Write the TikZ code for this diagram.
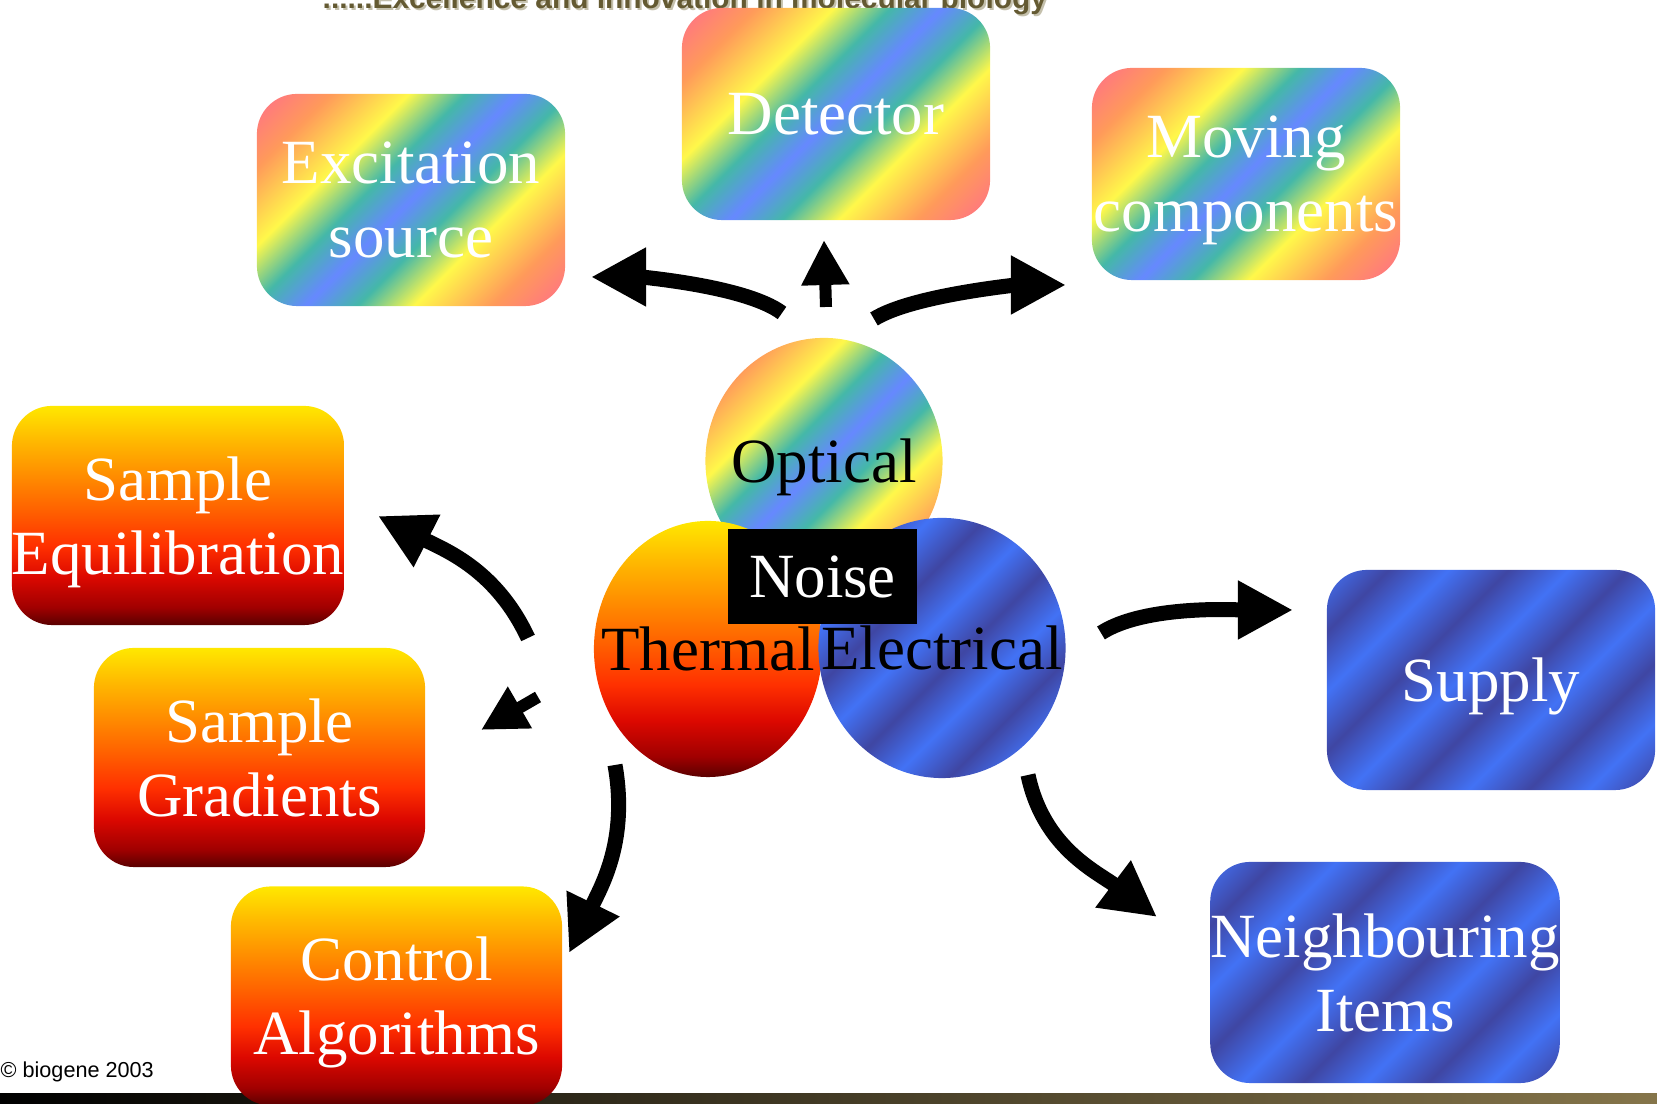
\documentclass[tikz,border=0pt]{standalone}
\usepackage{fontspec}
\setmainfont{Liberation Serif}
\newfontfamily\headfont{Liberation Sans}
\usetikzlibrary{shapes.geometric,arrows.meta}

% colours
\definecolor{rbpink}{HTML}{FF6E8A}
\definecolor{rborange}{HTML}{FF9A5A}
\definecolor{rbyellow}{HTML}{FFF84A}
\definecolor{rbteal}{HTML}{44B8A8}
\definecolor{rbblue}{HTML}{6688FF}
\definecolor{heatA}{HTML}{5A0000}
\definecolor{heatB}{HTML}{A00000}
\definecolor{heatC}{HTML}{DC0800}
\definecolor{heatD}{HTML}{FF3000}
\definecolor{heatE}{HTML}{FF6000}
\definecolor{heatF}{HTML}{FF8C00}
\definecolor{heatG}{HTML}{FFB800}
\definecolor{heatH}{HTML}{FFE800}
\definecolor{stdark}{HTML}{3F46A3}
\definecolor{stlight}{HTML}{4272F5}
\definecolor{barend}{HTML}{85754A}
\definecolor{motto}{HTML}{645A32}
\definecolor{mottoshadow}{HTML}{C4C0AC}

% shadings (turned by -45, so about 15bp..85bp shows along the diagonal)
\pgfdeclarehorizontalshading{rainbow}{100bp}{color(0bp)=(rbpink); color(14.6bp)=(rbpink);
  color(24.5bp)=(rborange); color(35.2bp)=(rbyellow); color(42.9bp)=(rbteal); color(50bp)=(rbblue);
  color(57.1bp)=(rbteal); color(64.8bp)=(rbyellow); color(75.5bp)=(rborange); color(85.4bp)=(rbpink);
  color(100bp)=(rbpink)}
\pgfdeclareverticalshading{heat}{100bp}{color(0bp)=(heatA); color(25bp)=(heatA);
  color(29bp)=(heatB); color(36bp)=(heatC); color(43bp)=(heatD); color(51bp)=(heatE);
  color(59bp)=(heatF); color(67bp)=(heatG); color(75bp)=(heatH); color(100bp)=(heatH)}
\pgfdeclarehorizontalshading{steel}{100bp}{color(0bp)=(stlight); color(14.6bp)=(stlight);
  color(22.4bp)=(stdark); color(30.2bp)=(stlight); color(38bp)=(stdark); color(45.8bp)=(stlight);
  color(53.5bp)=(stdark); color(61.3bp)=(stlight); color(69.1bp)=(stdark); color(76.9bp)=(stlight);
  color(84.7bp)=(stdark); color(100bp)=(stdark)}

\newcommand{\bigfont}{\fontsize{17.9}{21}\selectfont}

\tikzset{
  card/.style={rounded corners=0.4cm, inner sep=0pt, align=center, text=white,
    font=\bigfont, text depth=0pt},
  rainbowcard/.style={card, shading=rainbow, shading angle=-45,
    minimum width=3.08cm, minimum height=2.12cm},
  heatcard/.style={card, shading=heat, minimum width=3.31cm, minimum height=2.19cm},
  steelcard/.style={card, shading=steel, shading angle=-45},
  blob/.style={ellipse, inner sep=0pt},
  blobtext/.style={font=\bigfont, text depth=0pt, inner sep=0pt},
  flow/.style={-{Triangle[length=0.55cm,width=0.55cm]}, line width=0.15cm},
  shortflow/.style={-{Triangle[length=0.45cm,width=0.45cm]}, line width=0.12cm}
}

\begin{document}
\begin{tikzpicture}[x=0.01cm,y=0.01cm]
\useasboundingbox (0,0) rectangle (1657,1104);

% strip along the bottom
\fill[left color=black, right color=barend] (0,0) rectangle (1657,10);

% motto, cut by the top edge
\node[anchor=base west, inner sep=0pt, text=mottoshadow,
  font=\headfont\bfseries\fontsize{8.5}{10}\selectfont] at (324,1093)
  {......Excellence and innovation in molecular biology};
\node[anchor=base west, inner sep=0pt, text=motto,
  font=\headfont\bfseries\fontsize{8.5}{10}\selectfont] (motto) at (322,1095)
  {......Excellence and innovation in molecular biology};

% optical sources
\node[rainbowcard] (excite) at (411,904) {Excitation\\source};
\node[rainbowcard] (detect) at (836,990) {Detector};
\node[rainbowcard] (moving) at (1246,930) {Moving\\components};

% thermal sources
\node[heatcard] (equil) at (178,588.5) {Sample\\Equilibration};
\node[heatcard] (grad) at (259.5,346.5) {Sample\\Gradients};
\node[heatcard] (algo) at (396.5,108) {Control\\Algorithms};

% electrical sources
\node[steelcard, minimum width=3.28cm, minimum height=2.2cm] (supply) at (1491,424) {Supply};
\node[steelcard, minimum width=3.46cm, minimum height=2.21cm] (neigh) at (1385,131.5) {Neighbouring\\Items};

% the three kinds of noise
\node[blob, shading=rainbow, shading angle=-45, minimum width=2.37cm, minimum height=2.46cm,
  label={[blobtext]center:Optical}] (optical) at (824,643) {};
\node[blob, shading=heat, minimum width=2.28cm, minimum height=2.56cm,
  label={[blobtext]center:Thermal}] (thermal) at (708,455) {};
\node[blob, shading=steel, shading angle=-45, minimum width=2.47cm, minimum height=2.6cm,
  label={[blobtext]center:Electrical}] (electrical) at (942,456) {};
\node[fill=black, text=white, inner sep=0pt, font=\bigfont, text depth=0pt,
  minimum width=1.89cm, minimum height=0.95cm] (noise) at (822.5,527.5) {Noise};

% arrows
\coordinate (exA) at (782,791);  \coordinate (exB) at (591,827);
\coordinate (deA) at (826,797);  \coordinate (deB) at (824,864);
\coordinate (moA) at (874,785);  \coordinate (moB) at (1066,819);
\coordinate (eqA) at (528,466);  \coordinate (eqB) at (378,588);
\coordinate (grA) at (538,407);  \coordinate (grB) at (481,374);
\coordinate (alA) at (615,339);  \coordinate (alB) at (569,151);
\coordinate (suA) at (1101,471); \coordinate (suB) at (1293,494);
\coordinate (neA) at (1028,329); \coordinate (neB) at (1157,187);

\draw[flow] (exA) to[out=143,in=0,looseness=0.6] (exB);
\draw[shortflow] (deA) -- (deB);
\draw[flow] (moA) to[out=32,in=180,looseness=0.6] (moB);
\draw[flow] (eqA) to[out=115,in=-27] (eqB);
\draw[shortflow] (grA) -- (grB);
\draw[flow] (alA) to[out=-80,in=64] (alB);
\draw[flow] (suA) to[out=33,in=180,looseness=0.7] (suB);
\draw[flow] (neA) to[out=-78,in=143] (neB);

\node[anchor=base west, inner sep=0pt, font=\headfont\fontsize{6.15}{7}\selectfont] (copy) at (0,26) {© biogene 2003};
\end{tikzpicture}
\end{document}
